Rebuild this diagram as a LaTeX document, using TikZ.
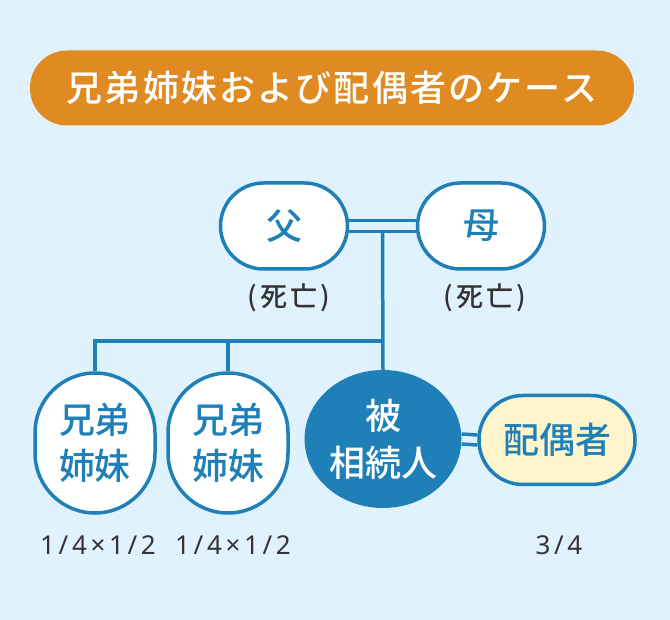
\documentclass[tikz,border=0pt]{standalone}
\usepackage{fontspec}
\usepackage{tikz}
\usetikzlibrary{positioning, calc, shapes.geometric}
\newfontfamily\jp{Noto Sans CJK JP}
\newfontfamily\jpmed{Noto Sans CJK JP Medium}
\newfontfamily\numfont{Noto Sans}[LetterSpace=14]
\definecolor{bgblue}{HTML}{E0F2FD}
\definecolor{lineblue}{HTML}{1F80B8}
\definecolor{titleorange}{HTML}{E08B22}
\definecolor{spouseyellow}{HTML}{FFF5CC}
\definecolor{labelgray}{HTML}{333333}

\begin{document}
\begin{tikzpicture}[x=1pt, y=-1pt,
    person/.style={draw=lineblue, line width=3.5pt, fill=white, text=lineblue,
      font=\jpmed\fontsize{36}{46}\selectfont, align=center, inner sep=0pt},
    parentbox/.style={person, rounded corners=43pt, minimum width=127pt, minimum height=86pt},
    siblingbox/.style={person, rounded corners=60pt, minimum width=120pt, minimum height=140pt},
    deceased/.style={text=labelgray, font=\jpmed\addfontfeature{LetterSpace=12}\fontsize{27}{27}\selectfont},
    share/.style={text=labelgray, font=\numfont\fontsize{26}{26}\selectfont},
    link/.style={draw=lineblue, line width=3.5pt}]
      % background and title
      \fill[bgblue] (0,0) rectangle (670,620);
      \node[fill=titleorange, rounded corners=37pt, minimum width=604pt, minimum height=75pt,
            text=white, font=\jpmed\addfontfeature{LetterSpace=6}\fontsize{36}{36}\selectfont]
        (title) at (332,88) {兄弟姉妹および配偶者のケース};
      % parents
      \node[parentbox] (father) at (284,226) {父};
      \node[parentbox] (mother) at (481,226) {母};
      \node[deceased] (fatherdead) at (289,298) {(死亡)};
      \node[deceased] (motherdead) at (485,298) {(死亡)};
      % children
      \node[siblingbox] (sib1) at (95,443) {兄弟\\姉妹};
      \node[siblingbox] (sib2) at (228,443) {兄弟\\姉妹};
      \node[ellipse, fill=lineblue, minimum width=157pt, minimum height=138pt, inner sep=0pt,
            text=white, font=\jpmed\fontsize{36}{47}\selectfont, align=center]
        (heir) at (383,439) {被\\相続人};
      \node[person, fill=spouseyellow, rounded corners=44pt, minimum width=156pt,
            minimum height=89pt] (spouse) at (557,440) {配偶者};
      % shares
      \node[share] (sib1share) at (98,545) {1/4×1/2};
      \node[share] (sib2share) at (233,545) {1/4×1/2};
      \node[share] (spouseshare) at (559,545) {3/4};
      % marriages
      \draw[link] ([yshift=5.5pt]father.east) -- ([yshift=5.5pt]mother.west);
      \draw[link] ([yshift=-5.5pt]father.east) -- ([yshift=-5.5pt]mother.west);
      \draw[link] ([yshift=5pt]heir.east) -- ([yshift=5pt]spouse.west);
      \draw[link] ([yshift=-5pt]heir.east) -- ([yshift=-5pt]spouse.west);
      % descent
      \coordinate (parents) at ([yshift=-5.5pt]$(father.east)!0.5!(mother.west)$);
      \coordinate (branch) at (heir.north |- 0,341);
      \draw[link] (parents) -- (heir.north);
      \draw[link] (sib1.north) |- (branch);
      \draw[link] (sib2.north) -- (sib2.north |- branch);
\end{tikzpicture}
\end{document}
